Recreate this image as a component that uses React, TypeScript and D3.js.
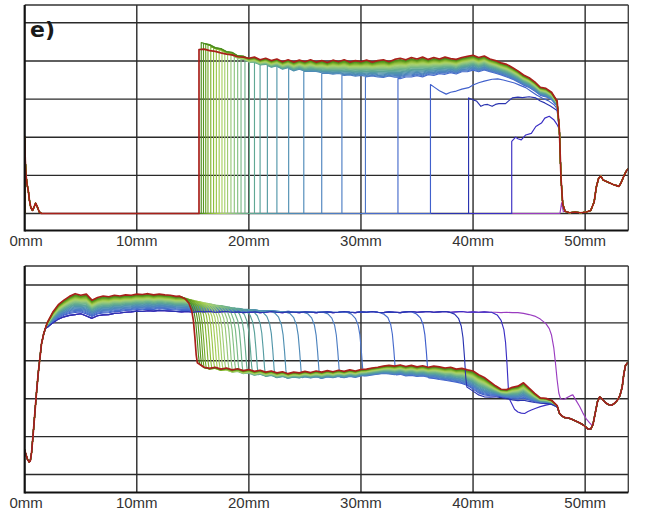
import React from "react";
import * as d3 from "d3";

type Pt = [number, number];

// ---------- axis / labels ----------
const X_TICKS = [0, 10, 20, 30, 40, 50];
const Y_GRID = [0, 1, 2, 3, 4, 5];
const X_MAX = 53.85;
const PANEL_LABEL = "e)";

// ---------- trace switch positions (mm) and depth inside the band ----------
const POSITIONS = [
  15.55, 15.75, 15.95, 16.15, 16.35, 16.6, 16.85, 17.1, 17.35, 17.6, 17.85, 18.1,
  18.4, 18.7, 19.0, 19.3, 19.65, 20.05, 20.5, 21.0, 21.65, 22.5, 23.55, 24.9,
  26.5, 28.3, 30.4, 33.3, 36.2, 39.6, 43.4, 47.8,
];
const DEPTHS = [
  0, 0.05, 0.08, 0.1, 0.12, 0.15, 0.17, 0.2, 0.22, 0.25, 0.27, 0.3,
  0.32, 0.35, 0.38, 0.4, 0.43, 0.46, 0.5, 0.53, 0.56, 0.6, 0.64, 0.68,
  0.72, 0.76, 0.8, 0.85, 0.9, 1, 1, 1,
];

// ---------- top panel profiles (grid 15.5 .. 47.5, step 0.5) ----------
const STEP = 0.5;
const TOP_START = 15.5;
const TOP_HI = [
  4.52, 4.47, 4.44, 4.36, 4.34, 4.26, 4.24, 4.15, 4.14, 4.07, 4.1, 4.03, 4.07, 4.01,
  4.05, 3.98, 4.03, 3.97, 4.02, 3.98, 4.03, 3.97, 4.01, 3.96, 4.02, 3.98, 4.03, 3.97,
  4.01, 3.98, 4.02, 3.97, 4.01, 4.03, 3.98, 4.04, 4.07, 4.03, 4.09, 4.05, 4.1, 4.04,
  4.09, 4.05, 4.1, 4.06, 4.04, 4.09, 4.12, 4.15, 4.09, 4.13, 4.05, 4.01, 3.95, 3.91,
  3.83, 3.74, 3.63, 3.56, 3.45, 3.31, 3.28, 3.18, 2.95,
];
const TOP_LO = [
  4.3, 4.26, 4.2, 4.14, 4.08, 4.03, 3.98, 3.92, 3.9, 3.84, 3.82, 3.77, 3.77, 3.7,
  3.73, 3.65, 3.68, 3.61, 3.65, 3.59, 3.59, 3.61, 3.54, 3.57, 3.51, 3.55, 3.49, 3.53,
  3.47, 3.51, 3.46, 3.52, 3.47, 3.45, 3.51, 3.46, 3.44, 3.5, 3.49, 3.54, 3.49, 3.57,
  3.54, 3.6, 3.57, 3.63, 3.59, 3.65, 3.65, 3.69, 3.65, 3.7, 3.66, 3.62, 3.58, 3.52,
  3.47, 3.4, 3.32, 3.26, 3.17, 3.06, 3.02, 2.95, 2.8,
];
const TOP_HEAD: Pt[] = [
  [0, 0], [0, 2.02], [0.05, 1.4], [0.12, 1.0], [0.22, 0.75], [0.32, 0.6], [0.42, 0.35],
  [0.55, 0.15], [0.7, 0.08], [0.85, 0.18], [0.98, 0.27], [1.12, 0.18], [1.3, 0.04], [1.5, 0],
];
const TOP_TAIL: Pt[] = [
  [47.7, 2.2], [47.85, 0.9], [48.0, 0.25], [48.2, 0.06], [48.6, 0.02], [49.1, 0.04],
  [49.6, 0.02], [50.1, 0.04], [50.5, 0.08], [50.8, 0.3], [51.0, 0.7], [51.2, 0.92],
  [51.4, 0.98], [51.6, 0.88], [51.9, 0.84], [52.2, 0.8], [52.5, 0.76], [52.8, 0.73],
  [53.0, 0.71], [53.2, 0.8], [53.45, 0.98], [53.65, 1.1], [53.85, 1.18],
];
const TOP_RED_START: Pt[] = [
  [15.55, 4.3], [16.0, 4.31], [16.5, 4.27], [17.0, 4.25], [17.5, 4.21], [18.0, 4.18],
  [18.5, 4.16], [19.0, 4.11], [19.5, 4.1],
];
const TOP_T36: Pt[] = [
  [36.2, 3.38], [36.6, 3.3], [37.0, 3.22], [37.6, 3.13], [38.0, 3.18], [38.5, 3.21],
  [39.0, 3.26], [39.6, 3.3], [40.0, 3.37], [40.5, 3.43], [41.0, 3.47], [41.7, 3.52],
  [42.2, 3.53], [42.7, 3.5], [43.2, 3.46], [43.7, 3.42], [44.2, 3.36], [44.7, 3.3],
  [45.2, 3.2], [45.7, 3.1], [46.2, 3.02], [46.7, 2.96], [47.2, 2.86], [47.5, 2.75],
];
const TOP_T39: Pt[] = [
  [39.6, 3.03], [40.0, 2.98], [40.3, 2.95], [40.7, 2.81], [41.0, 2.85], [41.3, 2.86],
  [41.7, 2.81], [42.0, 2.86], [42.3, 2.88], [42.9, 2.88], [43.2, 2.96], [43.5, 3.03],
  [44.0, 3.05], [44.4, 3.04], [45.0, 3.06], [45.6, 3.03], [46.0, 2.95], [46.4, 2.9],
  [46.9, 2.82], [47.5, 2.7],
];
const TOP_T43: Pt[] = [
  [43.45, 1.89], [43.8, 2.0], [44.0, 1.96], [44.3, 1.93], [44.7, 2.06], [45.2, 2.1],
  [45.6, 2.28], [46.1, 2.37], [46.4, 2.5], [46.8, 2.55], [47.2, 2.46], [47.5, 2.33],
];

// ---------- bottom panel profiles ----------
const BOT_UP_START = 2.0; // grid 2.0 .. 47.5
const BOT_LOW_START = 15.5; // grid 15.5 .. 47.5
const BOT_HEAD: Pt[] = [
  [0, 0.65], [0.12, 0.52], [0.25, 0.4], [0.4, 0.33], [0.5, 0.36], [0.62, 0.6], [0.75, 1.05],
  [0.9, 1.6], [1.05, 2.15], [1.2, 2.65], [1.35, 3.05], [1.5, 3.45], [1.7, 3.72], [1.85, 3.86],
];
const BOT_UP_HI = [
  4.0, 4.28, 4.48, 4.6, 4.7, 4.77, 4.73, 4.76, 4.6, 4.67, 4.71, 4.69, 4.73, 4.71, 4.74,
  4.73, 4.76, 4.75, 4.77, 4.74, 4.76, 4.74, 4.73, 4.7, 4.71, 4.68, 4.66, 4.64, 4.62, 4.6,
  4.58, 4.57, 4.53, 4.52, 4.49, 4.48, 4.45, 4.44, 4.41, 4.4, 4.37, 4.37, 4.34, 4.35, 4.32,
  4.33, 4.31, 4.32, 4.3, 4.31, 4.29, 4.31, 4.3, 4.29, 4.31, 4.3, 4.29, 4.3, 4.31, 4.29,
  4.3, 4.31, 4.3, 4.29, 4.31, 4.3, 4.32, 4.3, 4.31, 4.29, 4.3, 4.31, 4.3, 4.29, 4.3,
  4.31, 4.3, 4.29, 4.3, 4.29, 4.28, 4.29, 4.28, 4.27, 4.27, 4.25, 4.22, 4.18, 4.1, 4.0,
  3.75, 3.0,
];
const BOT_UP_LO = [
  3.88, 4.0, 4.1, 4.16, 4.2, 4.22, 4.24, 4.18, 4.12, 4.19, 4.21, 4.22, 4.25, 4.26, 4.28,
  4.29, 4.31, 4.3, 4.32, 4.31, 4.33, 4.32, 4.31, 4.3, 4.29, 4.3, 4.28, 4.3, 4.29, 4.3,
  4.28, 4.29, 4.3, 4.28, 4.29, 4.27, 4.28, 4.29, 4.27, 4.28, 4.3, 4.28, 4.27, 4.29, 4.28,
  4.27, 4.29, 4.28, 4.27, 4.28, 4.29, 4.27, 4.28, 4.3, 4.28, 4.27, 4.29, 4.28, 4.3, 4.28,
  4.27, 4.29, 4.28, 4.27, 4.29, 4.3, 4.28, 4.29, 4.3, 4.28, 4.29, 4.3, 4.28, 4.29, 4.3,
  4.28, 4.29, 4.28, 4.29, 4.28, 4.28, 4.27, 4.28, 4.27, 4.27, 4.25, 4.22, 4.18, 4.1, 4.0,
  3.75, 3.0,
];
const BOT_LOW_HI = [
  2.95, 2.83, 2.8, 2.83, 2.78, 2.81, 2.76, 2.79, 2.74, 2.77, 2.72, 2.75, 2.7, 2.73,
  2.68, 2.71, 2.66, 2.7, 2.68, 2.72, 2.69, 2.73, 2.7, 2.74, 2.71, 2.75, 2.72, 2.76,
  2.73, 2.77, 2.78, 2.81, 2.83, 2.86, 2.88, 2.86, 2.89, 2.85, 2.88, 2.84, 2.87, 2.83,
  2.86, 2.84, 2.81, 2.83, 2.78, 2.8, 2.76, 2.73, 2.63, 2.56, 2.45, 2.34, 2.25, 2.24,
  2.3, 2.33, 2.42, 2.28, 2.14, 2.02, 2.01, 1.96, 1.82,
];
const BOT_LOW_LO = [
  2.82, 2.7, 2.66, 2.68, 2.62, 2.64, 2.58, 2.6, 2.55, 2.57, 2.52, 2.55, 2.5, 2.52,
  2.47, 2.5, 2.46, 2.49, 2.47, 2.51, 2.48, 2.5, 2.47, 2.51, 2.49, 2.52, 2.5, 2.53,
  2.51, 2.55, 2.56, 2.58, 2.6, 2.62, 2.6, 2.58, 2.6, 2.56, 2.57, 2.54, 2.55, 2.52,
  2.5, 2.47, 2.45, 2.42, 2.4, 2.36, 2.3, 2.2, 2.1, 2.05, 2.04, 2.05, 2.03, 2.0,
  1.97, 1.95, 1.96, 1.93, 1.9, 1.88, 1.87, 1.85, 1.78,
];
const BOT_TAIL: Pt[] = [
  [47.7, 1.62], [47.9, 1.55], [48.2, 1.5], [48.5, 1.49], [48.8, 1.46], [49.1, 1.42],
  [49.4, 1.38], [49.7, 1.33], [50.0, 1.27], [50.25, 1.2], [50.5, 1.2], [50.7, 1.32],
  [50.9, 1.62], [51.1, 1.92], [51.3, 2.05], [51.55, 1.98], [51.8, 1.9], [52.1, 1.84],
  [52.4, 1.83], [52.7, 1.9], [52.9, 1.97], [53.1, 2.08], [53.3, 2.3], [53.45, 2.65],
  [53.6, 2.88], [53.85, 2.97],
];
const BOT_PURPLE: Pt[] = [
  [44.0, 4.27], [44.5, 4.25], [45.0, 4.22], [45.5, 4.18], [46.0, 4.1], [46.5, 3.98],
  [46.8, 3.85], [47.0, 3.68], [47.2, 3.35], [47.35, 2.95], [47.5, 2.5], [47.65, 2.15],
  [47.8, 2.0], [48.1, 1.98], [48.4, 2.03], [48.7, 2.08], [48.9, 2.1], [49.2, 1.95],
  [49.5, 1.8], [49.8, 1.62], [50.1, 1.47], [50.4, 1.36], [50.6, 1.3],
];
const BOT_LOW_43: Pt[] = [
  [43.4, 1.9], [43.7, 1.72], [44.0, 1.65], [44.3, 1.62], [44.6, 1.61], [44.9, 1.66],
  [45.2, 1.7], [45.6, 1.75], [46.0, 1.79], [46.5, 1.83], [47.0, 1.86], [47.5, 1.82],
];
// drop shoulder of the bottom traces, offsets (mm) from the switch position and fraction of the drop
const SHOULDER_DX = [-1.75, -1.25, -0.9, -0.65, -0.5, -0.37, -0.25, -0.15];
const SHOULDER_F = [0, 0.03, 0.09, 0.2, 0.35, 0.6, 0.88, 1.0];

// ---------- styling ----------
const COLORS = [
  "#a8201a", "#4a8c1c", "#58961f", "#66a024", "#74aa2a", "#82b432", "#8fbe3c", "#9cc648",
  "#a4cc55", "#a8d062", "#a6d06c", "#a0cc74", "#98c87a", "#8ec47e", "#84c082", "#7aba86",
  "#70b48a", "#68ae8e", "#60a894", "#5aa29a", "#569ca2", "#5296aa", "#5090b2", "#4e8ab8",
  "#4e84be", "#4e7ec4", "#4c76c8", "#486ccc", "#4060cc", "#2a34b0", "#3a2ec4", "#9a3cc0",
];
const W = 659;
const H = 512;
const PLOT_L = 24.7;
const PLOT_R = 628.3;
const TOP_FRAME = { top: 5, bottom: 230.5, zero: 213.5, five: 22.8, label: 245.5 };
const BOT_FRAME = { top: 266, bottom: 492.5, zero: 474.5, five: 285, label: 507.5 };
const FONT = "'Liberation Sans', Arial, sans-serif";

// ---------- helpers ----------
function at(arr: number[], start: number, x: number): number {
  const t = (x - start) / STEP;
  if (t <= 0) return arr[0];
  if (t >= arr.length - 1) return arr[arr.length - 1];
  const i = Math.floor(t);
  const f = t - i;
  return arr[i] * (1 - f) + arr[i + 1] * f;
}
function mix(hi: number[], lo: number[], start: number, d: number, x: number) {
  return at(hi, start, x) * (1 - d) + at(lo, start, x) * d;
}
function gridXs(start: number, n: number) {
  return d3.range(n).map((i) => start + i * STEP);
}
const LAST = POSITIONS.length - 1;

function topTrace(i: number): Pt[] {
  const p = POSITIONS[i];
  const d = DEPTHS[i];
  const pts: Pt[] = [...TOP_HEAD];
  if (i === LAST) {
    pts.push([47.75, 0], [47.9, 0.28], [48.05, 0.05]);
    pts.push(...TOP_TAIL.filter((q) => q[0] > 48.1));
    return pts;
  }
  pts.push([p, 0]);
  const special = i === 28 ? TOP_T36 : i === 29 ? TOP_T39 : i === 30 ? TOP_T43 : null;
  if (special) {
    pts.push([special[0][0], 0], ...special);
  } else if (i === 0) {
    pts.push([p, 0], ...TOP_RED_START);
    gridXs(TOP_START, TOP_HI.length)
      .filter((x) => x > 19.6)
      .forEach((x) => pts.push([x, at(TOP_HI, TOP_START, x)]));
  } else {
    const lvl = (x: number) => mix(TOP_HI, TOP_LO, TOP_START, d, x);
    pts.push([p, lvl(p)]);
    gridXs(TOP_START, TOP_HI.length)
      .filter((x) => x > p + 0.1)
      .forEach((x) => pts.push([x, lvl(x)]));
  }
  pts.push(...TOP_TAIL);
  return pts;
}

function botTrace(i: number): Pt[] {
  const p = POSITIONS[i];
  const d = DEPTHS[i];
  const up = (x: number) => mix(BOT_UP_HI, BOT_UP_LO, BOT_UP_START, d, x);
  const low = (x: number) => mix(BOT_LOW_HI, BOT_LOW_LO, BOT_LOW_START, d, x);
  const pts: Pt[] = [...BOT_HEAD];
  const upX = gridXs(BOT_UP_START, BOT_UP_HI.length);
  if (i === LAST) {
    upX.filter((x) => x < 44).forEach((x) => pts.push([x, up(x)]));
    pts.push(...BOT_PURPLE, ...BOT_TAIL.filter((q) => q[0] > 50.65));
    return pts;
  }
  const s0 = p + SHOULDER_DX[0];
  upX.filter((x) => x < s0 - 0.05).forEach((x) => pts.push([x, up(x)]));
  SHOULDER_DX.forEach((dx, k) => {
    const x = p + dx;
    const u = up(x);
    const l = low(x);
    pts.push([x, u + SHOULDER_F[k] * (l - u)]);
  });
  const s1 = p + SHOULDER_DX[SHOULDER_DX.length - 1];
  if (i === 30) {
    pts.push(...BOT_LOW_43.filter((q) => q[0] > s1));
  } else {
    gridXs(BOT_LOW_START, BOT_LOW_HI.length)
      .filter((x) => x > s1 + 0.1)
      .forEach((x) => pts.push([x, low(x)]));
  }
  pts.push(...BOT_TAIL);
  return pts;
}

// ---------- component ----------
function Panel({
  frame,
  build,
  id,
  order,
  showLabel,
}: {
  frame: typeof TOP_FRAME;
  build: (i: number) => Pt[];
  id: string;
  order: number[];
  showLabel?: boolean;
}) {
  const x = d3.scaleLinear().domain([0, X_MAX]).range([PLOT_L, PLOT_R]);
  const y = d3.scaleLinear().domain([0, 5]).range([frame.zero, frame.five]);
  const line = d3
    .line<Pt>()
    .x((q) => x(q[0]))
    .y((q) => y(q[1]));
  return (
    <g>
      <defs>
        <clipPath id={id}>
          <rect x={PLOT_L} y={frame.top} width={PLOT_R - PLOT_L} height={frame.bottom - frame.top} />
        </clipPath>
      </defs>
      <rect x={PLOT_L} y={frame.top} width={PLOT_R - PLOT_L} height={frame.bottom - frame.top} fill="#fff" />
      {X_TICKS.filter((t) => t > 0).map((t) => (
        <line key={"v" + t} x1={x(t)} x2={x(t)} y1={frame.top} y2={frame.bottom} stroke="#2a2a2a" strokeWidth={1.4} />
      ))}
      {Y_GRID.map((t) => (
        <line key={"h" + t} x1={PLOT_L} x2={PLOT_R} y1={y(t)} y2={y(t)} stroke="#2a2a2a" strokeWidth={1.4} />
      ))}
      <g clipPath={`url(#${id})`} fill="none" strokeLinejoin="round">
        {order.map((i) => (
          <path
            key={i}
            d={line(build(i)) || ""}
            stroke={COLORS[i]}
            strokeWidth={i === 0 ? 1.7 : 1.15}
          />
        ))}
      </g>
      <line x1={PLOT_L} x2={PLOT_R} y1={frame.top} y2={frame.top} stroke="#333" strokeWidth={1.6} />
      <line x1={PLOT_R} x2={PLOT_R} y1={frame.top} y2={frame.bottom} stroke="#444" strokeWidth={1.4} />
      <line x1={PLOT_L} x2={PLOT_L} y1={frame.top} y2={frame.bottom + 1} stroke="#111" strokeWidth={2.2} />
      <line x1={PLOT_L} x2={PLOT_R} y1={frame.bottom} y2={frame.bottom} stroke="#111" strokeWidth={2} />
      {X_TICKS.map((t) => (
        <text
          key={"t" + t}
          x={x(t) + (t === 0 ? 1.5 : 0)}
          y={frame.label}
          textAnchor="middle"
          fontFamily={FONT}
          fontSize={15}
          fill="#333"
        >
          {`${t}mm`}
        </text>
      ))}
      {showLabel && (
        <text x={30} y={37} fontFamily="'DejaVu Sans', sans-serif" fontWeight="bold" fontSize={22} fill="#1a1a1a">
          {PANEL_LABEL}
        </text>
      )}
    </g>
  );
}

const TOP_ORDER = d3.range(POSITIONS.length - 1, 0, -1).concat([0]);
const BOT_ORDER = TOP_ORDER.filter((i) => i !== 29 && i !== 0).concat([29, 0]);

export default function App() {
  return (
    <svg
      width={W}
      height={H}
      viewBox={`0 0 ${W} ${H}`}
      style={{ position: "absolute", left: 0, top: 0, display: "block", background: "#fff" }}
    >
      <rect width={W} height={H} fill="#fff" />
      <Panel frame={TOP_FRAME} build={topTrace} id="clipTop" order={TOP_ORDER} showLabel />
      <Panel frame={BOT_FRAME} build={botTrace} id="clipBot" order={BOT_ORDER} />
    </svg>
  );
}
